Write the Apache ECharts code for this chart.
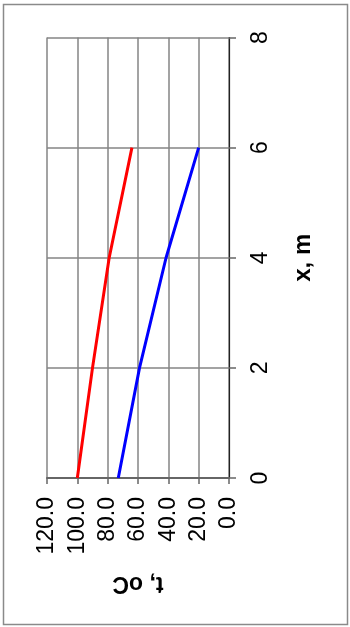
<!DOCTYPE html>
<html>
<head>
<meta charset="utf-8">
<script src="https://cdn.jsdelivr.net/npm/echarts@6/dist/echarts.min.js"></script>
<style>
  html, body { margin: 0; padding: 0; background: #fff; }
  #chart { width: 350px; height: 627px; }
</style>
</head>
<body>
<div id="chart"></div>
<script>
// Distance along the exchanger, m
const positions = [0, 2, 4, 6];
// Hot stream temperature, oC
const hotTemp = [100, 90, 79, 64];
// Cold stream temperature, oC
const coldTemp = [73, 59, 41.5, 20];
// Axis ranges
const tempTicks = [0, 20, 40, 60, 80, 100, 120];
const posTicks = [0, 2, 4, 6, 8];

const pairs = (temps) => positions.map((p, i) => [temps[i], p]);

const font = '"Liberation Sans", Arial, sans-serif';
const gridColor = '#858585';

const chart = echarts.init(document.getElementById('chart'), null, { renderer: 'canvas' });
chart.setOption({
  animation: false,
  backgroundColor: '#fff',
  graphic: [{
    type: 'rect',
    shape: { x: 3.5, y: 4.5, width: 344, height: 620 },
    style: { fill: 'none', stroke: '#8a8a8a', lineWidth: 1.5 }
  }],
  grid: { left: 47, right: 121, top: 37.5, bottom: 149, containLabel: false },
  xAxis: {
    type: 'value',
    min: tempTicks[0],
    max: tempTicks[tempTicks.length - 1],
    interval: 20,
    inverse: true,
    position: 'bottom',
    name: 't, oC',
    nameLocation: 'middle',
    nameRotate: 180,
    nameGap: 94,
    nameTextStyle: { fontFamily: font, fontSize: 23, fontWeight: 'bold', color: '#000' },
    axisLine: { show: true, lineStyle: { color: '#666', width: 2 } },
    axisTick: { show: true, length: 6, lineStyle: { color: '#666', width: 1.5 } },
    axisLabel: {
      rotate: 90, margin: 19, fontFamily: font, fontSize: 23, color: '#000',
      formatter: (v) => v.toFixed(1)
    },
    splitLine: { show: true, lineStyle: { color: gridColor, width: 1.5 } }
  },
  yAxis: {
    type: 'value',
    min: posTicks[0],
    max: posTicks[posTicks.length - 1],
    interval: 2,
    position: 'right',
    name: 'x, m',
    nameLocation: 'middle',
    nameRotate: 90,
    nameGap: 62,
    nameTextStyle: { fontFamily: font, fontSize: 24, fontWeight: 'bold', color: '#000' },
    axisLine: { show: true, lineStyle: { color: '#222', width: 1.2 } },
    axisTick: { show: true, length: 7, lineStyle: { color: '#666', width: 1.5 } },
    axisLabel: { rotate: 90, margin: 20, fontFamily: font, fontSize: 23, color: '#000' },
    splitLine: { show: true, lineStyle: { color: gridColor, width: 1.5 } }
  },
  series: [
    {
      name: 'hot', type: 'line', data: pairs(hotTemp),
      showSymbol: false, lineStyle: { color: '#ff0000', width: 3 }
    },
    {
      name: 'cold', type: 'line', data: pairs(coldTemp),
      showSymbol: false, lineStyle: { color: '#0000ff', width: 3 }
    }
  ]
});
</script>
</body>
</html>
